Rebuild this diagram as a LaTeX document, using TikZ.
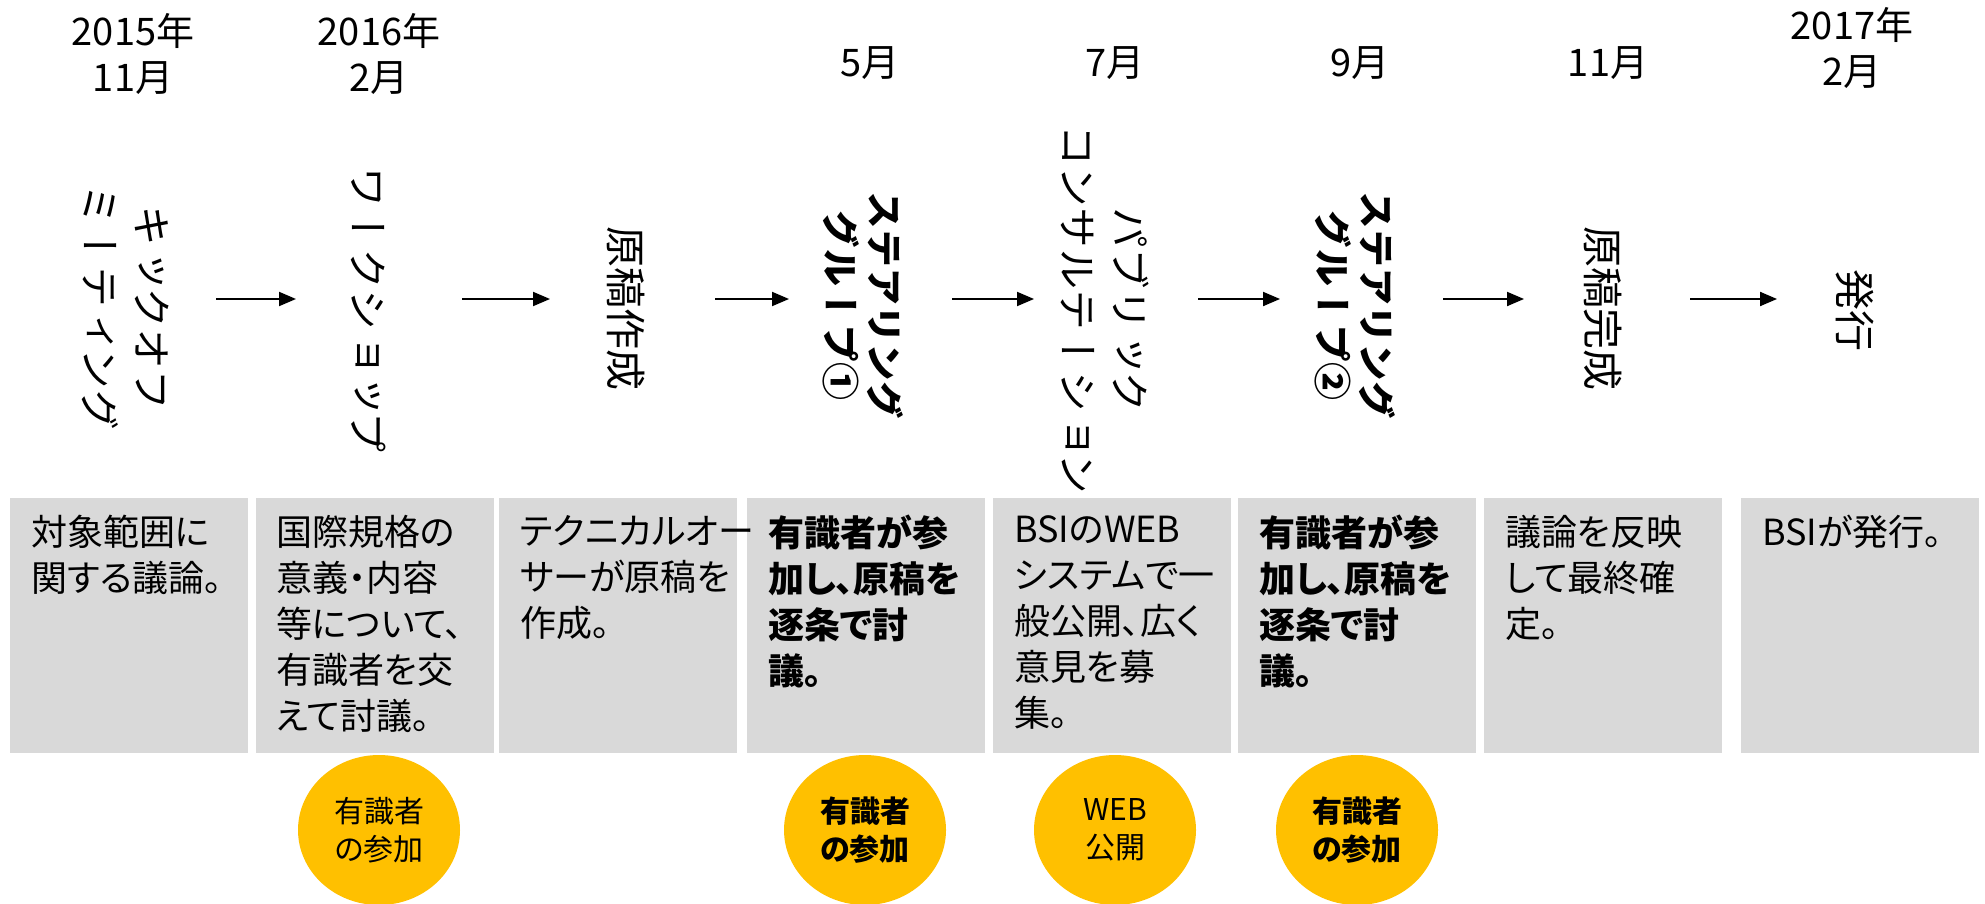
\documentclass[tikz,border=0pt]{standalone}
\usepackage{fontspec}
\setmainfont{Noto Sans CJK JP}[RawFeature=+palt]
\newfontfamily\vjp{Noto Sans CJK JP}[Vertical=RotatedGlyphs]
\usetikzlibrary{shapes.geometric,arrows.meta}
\definecolor{boxgray}{HTML}{D9D9D9}
\definecolor{gold}{HTML}{FFC000}
\tikzset{
 box/.style={fill=boxgray, draw=none, minimum width=238pt, minimum height=255pt, anchor=north west, inner sep=0pt},
 btxt/.style={anchor=north west, align=left, inner sep=0pt, font=\fontsize{36}{46}\selectfont},
 ell/.style={ellipse, fill=gold, minimum width=162pt, minimum height=150pt, inner sep=0pt, align=center, font=\fontsize{30}{38}\selectfont},
 datel/.style={align=center, inner sep=0pt, font=\fontsize{38}{46}\selectfont},
 vt/.style={rotate=-90, align=center, inner sep=0pt, font=\vjp\fontsize{41}{52}\selectfont},
 vtb/.style={rotate=-90, align=center, inner sep=0pt, font=\vjp\bfseries\fontsize{38}{44}\selectfont},
 arr/.style={-{Triangle[length=17pt,width=14pt]}, line width=2pt},
}
\begin{document}
\begin{tikzpicture}[x=1pt,y=-1pt]
\useasboundingbox (0,0) rectangle (1985,904);
\fill[white] (0,0) rectangle (1985,904);
% dates
\node[datel] (d1) at (133,54) {2015年\\11月};
\node[datel] (d2) at (379,54) {2016年\\2月};
\node[datel] (d3) at (870,63) {5月};
\node[datel] (d4) at (1115,63) {7月};
\node[datel] (d5) at (1360,63) {9月};
\node[datel] (d6) at (1608,63) {11月};
\node[datel] (d7) at (1852,48) {2017年\\2月};
% vertical titles
\node[vt] (t1) at (126,308) {キックオフ\\ミーティング};
\node[vt] (t2) at (369,310) {ワークショップ};
\node[vt] (t3) at (626,308) {原稿作成};
\node[vtb] (t4) at (863,306) {ステアリング\\グループ①};
\node[vt] (t5) at (1105,310) {パブリック\\コンサルテーション};
\node[vtb] (t6) at (1355,306) {ステアリング\\グループ②};
\node[vt] (t7) at (1603,308) {原稿完成};
\node[vt] (t8) at (1855,310) {発行};
% arrows
\coordinate (a1) at (216,299); \coordinate (b1) at (296,299);
\coordinate (a2) at (462,299); \coordinate (b2) at (550,299);
\coordinate (a3) at (715,299); \coordinate (b3) at (789,299);
\coordinate (a4) at (952,299); \coordinate (b4) at (1034,299);
\coordinate (a5) at (1198,299); \coordinate (b5) at (1280,299);
\coordinate (a6) at (1443,299); \coordinate (b6) at (1524,299);
\coordinate (a7) at (1690,299); \coordinate (b7) at (1777,299);
\foreach \i in {1,...,7} \draw[arr] (a\i) -- (b\i);
% boxes
\node[box] (b1x) at (10,498) {};
\node[box] (b2x) at (256,498) {};
\node[box] (b3x) at (499,498) {};
\node[box] (b4x) at (747,498) {};
\node[box] (b5x) at (993,498) {};
\node[box] (b6x) at (1238,498) {};
\node[box] (b7x) at (1484,498) {};
\node[box] (b8x) at (1741,498) {};
\node[btxt] (bt1) at (31,515) {対象範囲に\\関する議論。};
\node[btxt] (bt2) at (276,515) {国際規格の\\意義・内容\\等について、\\有識者を交\\えて討議。};
\node[btxt] (bt3) at (520,515) {テクニカルオー\\サーが原稿を\\作成。};
\node[btxt,font=\bfseries\fontsize{36}{46}\selectfont] (bt4) at (768,515) {有識者が参\\加し、原稿を\\逐条で討\\議。};
\node[btxt] (bt5) at (1014,515) {BSIのWEB\\システムで一\\般公開、広く\\意見を募\\集。};
\node[btxt,font=\bfseries\fontsize{36}{46}\selectfont] (bt6) at (1259,515) {有識者が参\\加し、原稿を\\逐条で討\\議。};
\node[btxt] (bt7) at (1505,515) {議論を反映\\して最終確\\定。};
\node[btxt] (bt8) at (1762,515) {BSIが発行。};
% ellipses
\node[ell] (e1) at (379,830) {有識者\\の参加};
\node[ell,font=\bfseries\fontsize{30}{38}\selectfont] (e2) at (865,830) {有識者\\の参加};
\node[ell] (e3) at (1115,830) {WEB\\公開};
\node[ell,font=\bfseries\fontsize{30}{38}\selectfont] (e4) at (1357,830) {有識者\\の参加};
\end{tikzpicture}
\end{document}
